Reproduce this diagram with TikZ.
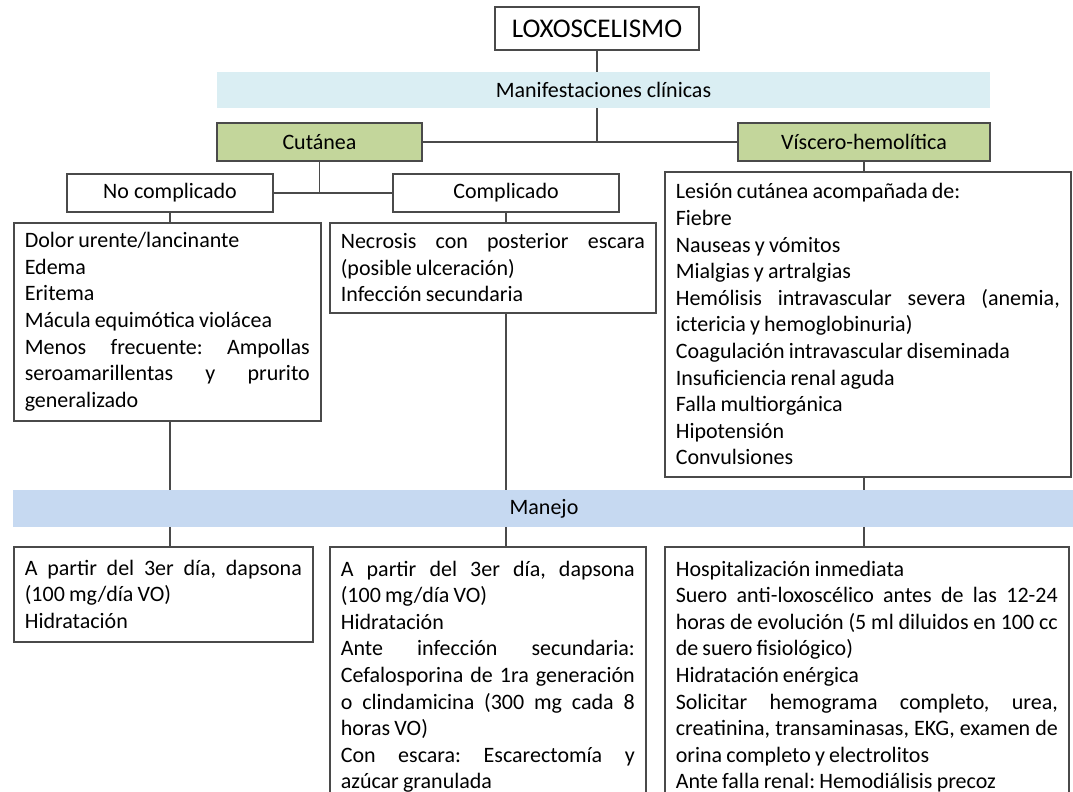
\documentclass[tikz,border=0pt]{standalone}
\usepackage{fontspec}
\setmainfont{Carlito}
\usepackage{tikz}
\usetikzlibrary{positioning}

\definecolor{bandblue}{HTML}{DAEEF3}
\definecolor{manejoblue}{HTML}{C6D9F1}
\definecolor{greenbox}{HTML}{C3D69B}
\definecolor{linegray}{HTML}{4A4A4A}

% one justified line of a list box
\newcommand{\jl}[1]{\leavevmode\hbox to \hsize{#1}}
\newcommand{\boxfont}{\fontsize{11}{13.3}\selectfont}
\newcommand{\tightspace}{\spaceskip=0.19em plus 0.2em minus 0.04em\xspaceskip=0.19em plus 0.2em\relax}

\begin{document}
\begin{tikzpicture}[x=1pt, y=1pt,
    headbox/.style={rectangle, draw=linegray, line width=0.8pt, fill=white, minimum width=102pt, minimum height=21.5pt, inner sep=0pt, font=\fontsize{13.5}{16}\selectfont},
    band/.style={rectangle, fill=bandblue, minimum height=18pt, inner sep=0pt, font=\boxfont},
    group/.style={rectangle, draw=linegray, line width=0.8pt, fill=greenbox, minimum height=19pt, inner sep=0pt, font=\boxfont},
    branch/.style={rectangle, draw=linegray, line width=0.8pt, fill=white, minimum height=19pt, inner sep=0pt, font=\boxfont},
    listbox/.style={rectangle, draw=linegray, line width=0.8pt, anchor=north west, align=left, inner xsep=5.5pt, inner ysep=3pt, font=\boxfont, execute at begin node=\tightspace},
    link/.style={draw=linegray, line width=0.8pt}
]
\useasboundingbox (0,0) rectangle (536.5,-396);

% Top
\node[headbox] (loxo) at (298.5,-14.25) {LOXOSCELISMO};
\node[band, minimum width=386.5pt] (manif) at (301.75,-45) {Manifestaciones clínicas};

% Clinical forms
\node[group, minimum width=102.5pt] (cut) at (159.75,-71) {Cutánea};
\node[group, minimum width=126pt] (visc) at (432,-71) {Víscero-hemolítica};
\node[branch, minimum width=103pt] (nocomp) at (85,-96.5) {No complicado};
\node[branch, minimum width=113pt] (comp) at (253,-96.5) {Complicado};

% Manifestations
\node[listbox, text width=142.5pt, minimum height=99pt] (lcut) at (6.5,-111) {
    Dolor urente/lancinante\\
    Edema\\
    Eritema\\
    Mácula equimótica violácea\\
    \jl{Menos \hfill frecuente: \hfill Ampollas}\\
    \jl{seroamarillentas \hfill y \hfill prurito}\\
    generalizado};
\node[listbox, text width=152pt, minimum height=45pt] (lcomp) at (164.5,-111) {
    \jl{Necrosis \hfill con \hfill posterior \hfill escara}\\
    (posible ulceración)\\
    Infección secundaria};
\node[listbox, text width=192pt, minimum height=152.5pt] (lvisc) at (332,-85.5) {
    Lesión cutánea acompañada de:\\
    Fiebre\\
    Nauseas y vómitos\\
    Mialgias y artralgias\\
    \jl{Hemólisis \hfill intravascular \hfill severa \hfill (anemia,}\\
    ictericia y hemoglobinuria)\\
    Coagulación intravascular diseminada\\
    Insuficiencia renal aguda\\
    Falla multiorgánica\\
    Hipotensión\\
    Convulsiones};

% Management
\node[band, fill=manejoblue, minimum width=531pt, minimum height=18.5pt] (manejo) at (272,-254.25) {Manejo};

\node[listbox, text width=138.5pt, minimum height=47.5pt] (mcut) at (6.5,-273) {
    \jl{A \hfill partir \hfill del \hfill 3er \hfill día, \hfill dapsona}\\
    (100 mg/día VO)\\
    Hidratación};
\node[listbox, text width=147pt, inner ysep=7pt] (mcomp) at (164.5,-273) {
    \jl{A \hfill partir \hfill del \hfill 3er \hfill día, \hfill dapsona}\\
    (100 mg/día VO)\\
    Hidratación\\
    \jl{Ante \hfill infección \hfill secundaria:}\\
    \jl{Cefalosporina \hfill de \hfill 1ra \hfill generación}\\
    \jl{o \hfill clindamicina \hfill (300 \hfill mg \hfill cada \hfill 8}\\
    horas VO)\\
    \jl{Con \hfill escara: \hfill Escarectomía \hfill y}\\
    azúcar granulada\rule[-14pt]{0pt}{0pt}};
\node[listbox, text width=191pt, inner ysep=7pt] (mvisc) at (332,-273) {
    Hospitalización inmediata\\
    \jl{Suero \hfill anti-loxoscélico \hfill antes \hfill de \hfill las \hfill 12-24}\\
    \jl{horas \hfill de \hfill evolución \hfill (5 \hfill ml \hfill diluidos \hfill en \hfill 100 \hfill cc}\\
    de suero fisiológico)\\
    Hidratación enérgica\\
    \jl{Solicitar \hfill hemograma \hfill completo, \hfill urea,}\\
    \jl{creatinina, \hfill transaminasas, \hfill EKG, \hfill examen \hfill de}\\
    orina completo y electrolitos\\
    Ante falla renal: Hemodiálisis precoz\rule[-14pt]{0pt}{0pt}};

% Connectors
\coordinate (hub) at (loxo.south |- cut.east);
\coordinate (split) at (cut.south |- nocomp.east);
\draw[link] (loxo.south) -- (loxo.south |- manif.north);
\draw[link] (loxo.south |- manif.south) -- (hub);
\draw[link] (cut) -- (visc);
\draw[link] (cut.south) -- (split);
\draw[link] (nocomp) -- (comp);
\draw[link] (nocomp.south) -- (nocomp.south |- lcut.north);
\draw[link] (comp.south) -- (comp.south |- lcomp.north);
\draw[link] (visc.south) -- (visc.south |- lvisc.north);
\draw[link] (nocomp.south |- lcut.south) -- (nocomp.south |- manejo.north);
\draw[link] (comp.south |- lcomp.south) -- (comp.south |- manejo.north);
\draw[link] (visc.south |- lvisc.south) -- (visc.south |- manejo.north);
\draw[link] (nocomp.south |- manejo.south) -- (nocomp.south |- mcut.north);
\draw[link] (comp.south |- manejo.south) -- (comp.south |- mcomp.north);
\draw[link] (visc.south |- manejo.south) -- (visc.south |- mvisc.north);

\end{tikzpicture}
\end{document}
